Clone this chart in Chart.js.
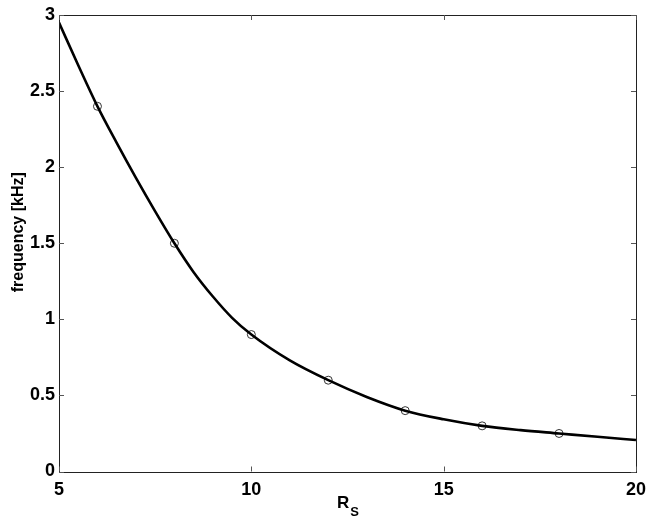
<!DOCTYPE html>
<html>
<head>
<meta charset="utf-8">
<script src="https://cdn.jsdelivr.net/npm/chart.js@4.4.1/dist/chart.umd.min.js"></script>
<style>
  html, body { margin: 0; padding: 0; background: #fff; }
  #wrap { width: 654px; height: 524px; }
</style>
</head>
<body>
<div id="wrap"><canvas id="freqChart" width="654" height="524"></canvas></div>
<script>
// fitted curve
const curveX = [5, 5.5, 6, 6.5, 7, 7.5, 8, 8.5, 9, 9.5, 10, 11, 12, 13, 14, 15, 16, 17, 18, 19, 20];
const curveY = [2.95, 2.67, 2.4, 2.16, 1.93, 1.71, 1.5, 1.31, 1.15, 1.01, 0.9, 0.73, 0.6, 0.49, 0.4, 0.343, 0.3, 0.272, 0.25, 0.228, 0.207];

// measured points (circles)
const measX = [6, 8, 10, 12, 14, 16, 18];
const measY = [2.4, 1.5, 0.9, 0.6, 0.4, 0.3, 0.25];

const xTicks = [5, 10, 15, 20];
const yTicks = [0, 0.5, 1, 1.5, 2, 2.5, 3];

const FONT = 'Liberation Sans, Arial, sans-serif';
const tickFont = { family: FONT, size: 18, weight: 'bold' };

// MATLAB style box + inward ticks + axis labels
const boxPlugin = {
  id: 'boxPlugin',
  afterDraw(chart) {
    const ctx = chart.ctx;
    const a = chart.chartArea;
    const xs = chart.scales.x, ys = chart.scales.y;
    ctx.save();
    ctx.strokeStyle = '#222';
    ctx.lineWidth = 1;
    ctx.strokeRect(Math.round(a.left) + 0.5, Math.round(a.top) + 0.5,
      Math.round(a.right - a.left), Math.round(a.bottom - a.top));
    ctx.strokeStyle = '#555';
    ctx.beginPath();
    xTicks.forEach(v => {
      const px = Math.round(xs.getPixelForValue(v)) + 0.5;
      ctx.moveTo(px, a.bottom); ctx.lineTo(px, a.bottom - 5);
      ctx.moveTo(px, a.top); ctx.lineTo(px, a.top + 5);
    });
    yTicks.forEach(v => {
      const py = Math.round(ys.getPixelForValue(v)) + 0.5;
      ctx.moveTo(a.left, py); ctx.lineTo(a.left + 5, py);
      ctx.moveTo(a.right, py); ctx.lineTo(a.right - 5, py);
    });
    ctx.stroke();

    ctx.fillStyle = '#000';
    ctx.textBaseline = 'alphabetic';

    // y label (rotated)
    ctx.save();
    ctx.translate(23, (a.top + a.bottom) / 2 - 11);
    ctx.rotate(-Math.PI / 2);
    ctx.textAlign = 'center';
    ctx.font = 'bold 16px ' + FONT;
    ctx.fillText('frequency [kHz]', 0, 0);
    ctx.restore();

    // x label R with subscript S
    const cx = (a.left + a.right) / 2;
    ctx.textAlign = 'left';
    ctx.font = 'bold 17px ' + FONT;
    const wR = ctx.measureText('R').width;
    ctx.font = 'bold 13px ' + FONT;
    const wS = ctx.measureText('S').width;
    const x0 = cx - (wR + wS) / 2;
    ctx.font = 'bold 17px ' + FONT;
    ctx.fillText('R', x0, 508);
    ctx.font = 'bold 13px ' + FONT;
    ctx.fillText('S', x0 + wR + 1, 516);
    ctx.restore();
  }
};

new Chart(document.getElementById('freqChart'), {
  type: 'scatter',
  data: {
    datasets: [{
      label: 'fit',
      data: curveX.map((x, i) => ({ x: x, y: curveY[i] })),
      showLine: true,
      borderColor: '#000',
      borderWidth: 2.6,
      pointRadius: 0,
      cubicInterpolationMode: 'monotone'
    }, {
      label: 'measured',
      data: measX.map((x, i) => ({ x: x, y: measY[i] })),
      showLine: false,
      pointRadius: 4,
      pointBorderWidth: 1,
      pointBorderColor: '#333',
      pointBackgroundColor: 'rgba(0,0,0,0)'
    }]
  },
  options: {
    responsive: false,
    animation: false,
    layout: { padding: { top: 15, right: 15, left: 0, bottom: 0 } },
    plugins: {
      legend: { display: false },
      tooltip: { enabled: false }
    },
    scales: {
      x: {
        type: 'linear',
        min: 5, max: 20,
        afterBuildTicks: s => { s.ticks = xTicks.map(v => ({ value: v })); },
        afterFit: s => { s.height = 52.5; },
        grid: { display: false, drawTicks: false },
        border: { display: false },
        ticks: { color: '#000', font: tickFont, padding: 8, maxRotation: 0, callback: v => String(v) }
      },
      y: {
        type: 'linear',
        min: 0, max: 3,
        afterBuildTicks: s => { s.ticks = yTicks.map(v => ({ value: v })); },
        afterFit: s => { s.width = 59; },
        grid: { display: false, drawTicks: false },
        border: { display: false },
        ticks: { color: '#000', font: tickFont, padding: 4, callback: v => String(v) }
      }
    }
  },
  plugins: [boxPlugin]
});
</script>
</body>
</html>
